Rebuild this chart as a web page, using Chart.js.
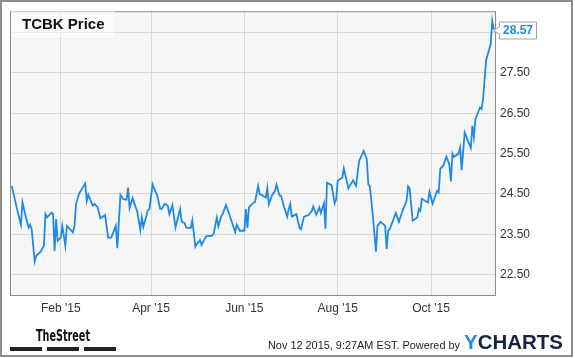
<!DOCTYPE html>
<html>
<head>
<meta charset="utf-8">
<script src="https://cdn.jsdelivr.net/npm/chart.js@4.4.1/dist/chart.umd.min.js"></script>
<style>
  html, body { margin: 0; padding: 0; background: #ffffff; }
  #wrap { position: relative; width: 575px; height: 358px; overflow: hidden; font-family: "Liberation Sans", Arial, sans-serif; }
  #c { position: absolute; left: 0; top: 0; }
  .abs { position: absolute; white-space: nowrap; }
  #frame { position: absolute; left: 0; top: 0; width: 573px; height: 357px; border: 2px solid #8c8c8c; box-sizing: border-box; pointer-events: none; }
  #title { left: 11px; top: 11px; width: 104px; height: 26px; line-height: 26px; padding-left: 11px; box-sizing: border-box; background: rgba(255,255,255,0.5); font-weight: bold; font-size: 15px; color: #111; }
  #street { left: 36px; top: 328px; font-family: "Liberation Sans Narrow", "DejaVu Sans Condensed", "Liberation Sans", sans-serif; font-weight: bold; font-size: 16px; line-height: 16px; color: #111; transform-origin: 0 0; }
  .bar { position: absolute; top: 347px; height: 4px; background: #222; }
  #stamp { left: 268px; top: 338.5px; font-size: 11.5px; line-height: 12px; color: #222; transform-origin: 0 0; }
  #ych { left: 464px; top: 331.5px; font-size: 20px; line-height: 20px; font-weight: bold; color: #14233f; transform-origin: 0 0; }
  #ych span { color: #1d8ce6; }
</style>
</head>
<body>
<div id="wrap">
  <canvas id="c" width="575" height="358"></canvas>
  <div id="title" class="abs">TCBK Price</div>
  <div id="street" class="abs">TheStreet</div>
  <div class="bar" style="left:10px;width:32px"></div>
  <div class="bar" style="left:47px;width:32px"></div>
  <div class="bar" style="left:84px;width:32px"></div>
  <div id="stamp" class="abs">Nov 12 2015, 9:27AM EST. Powered by</div>
  <div id="ych" class="abs"><span>Y</span>CHARTS</div>
  <div id="frame"></div>
</div>
<script>
// Days since 2015-01-01 for each price reading
const dayOffsets = [
  -1, 1, 3, 5, 6, 8, 10, 11, 12, 14, 15, 18, 20, 21, 22, 25, 26, 27, 28, 29,
  31, 32, 34, 35, 37, 39, 40, 41, 43, 47, 48, 49, 52, 53, 55, 57, 60, 62, 64, 67,
  68, 70, 72, 74, 75, 76, 78, 80, 81, 83, 84, 85, 88, 89, 91, 94, 96, 97, 99, 101,
  102, 104, 106, 109, 110, 112, 113, 116, 117, 119, 120, 122, 123, 126, 130, 131, 133, 134, 136, 137,
  139, 142, 145, 146, 148, 151, 152, 153, 154, 156, 158, 160, 161, 163, 165, 166, 167, 169, 171, 172,
  174, 175, 177, 179, 180, 181, 182, 185, 187, 188, 190, 193, 195, 196, 198, 200, 201, 203, 204, 205,
  208, 210, 211, 212, 215, 216, 219, 222, 224, 226, 229, 231, 232, 233, 235, 237, 238, 240, 242, 243,
  244, 245, 246, 250, 252, 254, 257, 258, 259, 261, 264, 265, 266, 267, 271, 272, 274, 277, 278, 279,
  281, 283, 285, 286, 287, 288, 291, 292, 293, 295, 299, 300, 301, 302, 305, 306, 307, 309, 312, 313,
  314
];
const prices = [
  24.70, 24.37, 24.04, 23.74, 24.29, 23.96, 23.67, 23.74, 23.63, 22.83, 22.97, 23.08, 23.22, 24.00, 23.92, 24.04, 24.00, 23.09, 23.88, 23.34,
  23.42, 23.71, 23.22, 23.71, 23.63, 23.55, 23.71, 24.25, 24.51, 24.76, 24.33, 24.48, 24.21, 24.25, 24.18, 23.90, 23.98, 23.42, 23.42, 23.71,
  23.16, 24.48, 24.37, 24.36, 24.66, 24.15, 24.40, 24.17, 24.07, 23.61, 23.92, 23.69, 24.10, 24.13, 24.74, 24.46, 24.13, 24.13, 24.26, 24.21,
  24.00, 24.23, 23.67, 24.13, 23.82, 23.78, 23.67, 23.66, 23.85, 23.19, 23.26, 23.36, 23.24, 23.45, 23.47, 23.53, 23.92, 23.70, 23.96, 24.02,
  24.23, 23.90, 23.56, 23.74, 23.59, 23.59, 24.13, 23.66, 24.17, 24.25, 24.31, 24.70, 24.50, 24.46, 24.41, 24.65, 24.25, 24.46, 24.58, 24.73,
  24.46, 24.46, 24.17, 23.94, 24.13, 24.25, 23.94, 24.00, 23.66, 23.63, 23.94, 23.98, 24.07, 24.19, 23.99, 24.17, 24.03, 24.27, 23.64, 24.78,
  24.72, 24.27, 24.37, 24.83, 24.91, 25.13, 24.64, 24.84, 24.70, 25.32, 25.57, 25.36, 24.74, 24.69, 23.96, 23.07, 23.71, 23.81, 23.75, 23.71,
  23.14, 23.59, 23.63, 24.03, 23.81, 24.04, 24.33, 24.69, 24.64, 23.84, 23.92, 24.13, 24.08, 24.38, 24.29, 24.56, 24.26, 24.58, 24.54, 25.12,
  25.20, 25.43, 25.22, 24.81, 25.50, 25.42, 25.50, 25.65, 25.09, 26.02, 25.64, 26.19, 25.90, 26.35, 26.64, 26.60, 26.85, 27.81, 28.21, 28.78,
  28.57
];
const xTickDays = [31, 90, 151, 212, 273];
const xTickLabels = ["Feb '15", "Apr '15", "Jun '15", "Aug '15", "Oct '15"];
const yTickValues = [22.5, 23.5, 24.5, 25.5, 26.5, 27.5, 28.5];
const yTickLabels = ["22.50", "23.50", "24.50", "25.50", "26.50", "27.50", ""];
const lastPriceLabel = "28.57";

const points = dayOffsets.map((d, i) => ({ x: d, y: prices[i] }));

const FONT = "'Liberation Sans', Arial, sans-serif";
const BLUE = '#1f8ae6';

const decor = {
  id: 'decor',
  beforeDraw(chart) {
    const ctx = chart.ctx, ca = chart.chartArea;
    ctx.save();
    ctx.fillStyle = '#f6f6f6';
    ctx.fillRect(ca.left, ca.top, ca.right - ca.left, ca.bottom - ca.top);
    ctx.restore();
  },
  afterDraw(chart) {
    const ctx = chart.ctx, ca = chart.chartArea;
    ctx.save();
    ctx.strokeStyle = '#8c8c8c';
    ctx.lineWidth = 1;
    ctx.strokeRect(ca.left - 0.5, ca.top - 0.5, ca.right - ca.left + 1, ca.bottom - ca.top + 1);
    // last value callout
    const yS = chart.scales.y;
    const yp = Math.round(yS.getPixelForValue(prices[prices.length - 1])) + 0.5;
    const bx = ca.right + 4.5, bw = 37, bh = 17, by = yp - bh / 2;
    const tip = ca.right - 1;
    ctx.beginPath();
    ctx.moveTo(bx, by);
    ctx.lineTo(bx + bw, by);
    ctx.lineTo(bx + bw, by + bh);
    ctx.lineTo(bx, by + bh);
    ctx.lineTo(bx, yp + 4);
    ctx.lineTo(tip, yp);
    ctx.lineTo(bx, yp - 4);
    ctx.closePath();
    ctx.fillStyle = '#ffffff';
    ctx.fill();
    ctx.strokeStyle = '#a0a0a0';
    ctx.stroke();
    ctx.fillStyle = BLUE;
    ctx.font = 'bold 12px ' + FONT;
    ctx.textAlign = 'center';
    ctx.textBaseline = 'middle';
    ctx.fillText(lastPriceLabel, bx + bw / 2, yp + 0.5);
    ctx.restore();
  }
};

new Chart(document.getElementById('c'), {
  type: 'line',
  data: {
    datasets: [{
      data: points,
      borderColor: BLUE,
      borderWidth: 1.8,
      pointRadius: 0,
      tension: 0,
      fill: false
    }]
  },
  options: {
    responsive: false,
    animation: false,
    events: [],
    layout: { padding: { left: 11, top: 11, right: 0, bottom: 0 } },
    plugins: { legend: { display: false }, tooltip: { enabled: false }, title: { display: false } },
    scales: {
      x: {
        type: 'linear',
        min: -1.5,
        max: 314.8,
        afterBuildTicks(s) { s.ticks = xTickDays.map(v => ({ value: v })); },
        afterFit(s) { s.height = 63; },
        grid: { color: '#d9d9d9', drawTicks: false, lineWidth: 1 },
        border: { display: false },
        ticks: {
          autoSkip: false, maxRotation: 0, padding: 6,
          color: '#333333', font: { family: FONT, size: 12 },
          callback: (v, i) => xTickLabels[i]
        }
      },
      y: {
        position: 'right',
        min: 22,
        max: 29,
        afterBuildTicks(s) { s.ticks = yTickValues.map(v => ({ value: v })); },
        afterFit(s) { s.width = 80; },
        grid: { color: '#d9d9d9', drawTicks: false, lineWidth: 1 },
        border: { display: false },
        ticks: {
          padding: 5,
          color: '#333333', font: { family: FONT, size: 12 },
          callback: (v, i) => yTickLabels[i]
        }
      }
    }
  },
  plugins: [decor]
});

function fitWidth(id, target) {
  const el = document.getElementById(id);
  el.style.display = 'inline-block';
  const w = el.getBoundingClientRect().width;
  if (w > 0) el.style.transform = 'scaleX(' + (target / w) + ')';
}
fitWidth('street', 54);
fitWidth('stamp', 192);
fitWidth('ych', 99);
</script>
</body>
</html>
